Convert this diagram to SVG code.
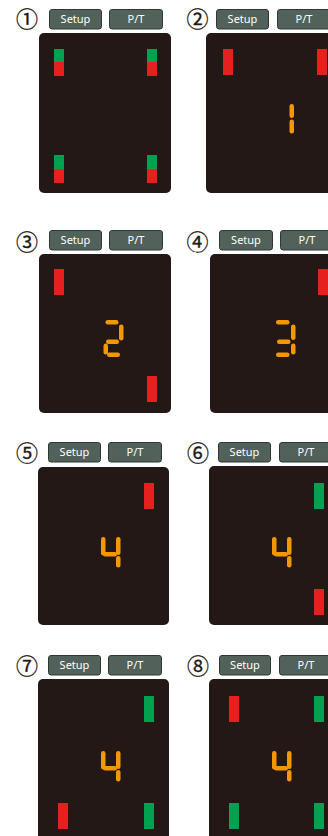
<svg xmlns="http://www.w3.org/2000/svg" width="328" height="836" viewBox="0 0 328 836">
<style>
.bg{fill:#ffffff}
.scr{fill:#231815}
.btn{fill:#52625a;stroke:#2f3934;stroke-width:1}
.bt{font-family:"Noto Sans","Liberation Sans",sans-serif;font-size:11px;fill:#ffffff;text-anchor:middle}
.num{font-family:"Noto Sans CJK JP","DejaVu Sans",sans-serif;font-size:22px;fill:#231815;stroke:#231815;stroke-width:0.3;text-anchor:middle}
.r{fill:#e61f1f}
.g{fill:#00a151}
.s{fill:#f39800}
</style>
<rect class="bg" x="0" y="0" width="328" height="836"/>

<g id="panel1">
<text class="num" x="27" y="27">①</text>
<rect class="btn" x="49.5" y="9.5" width="52" height="19.5" rx="2.5"/>
<text class="bt" x="75.5" y="23">Setup</text>
<rect class="btn" x="109.5" y="9.5" width="53" height="19.5" rx="2.5"/>
<text class="bt" x="136" y="23">P/T</text>
<rect class="scr" x="39" y="33" width="132" height="160" rx="5"/>
<rect class="g" x="54" y="49" width="10" height="13"/><rect class="r" x="54" y="62" width="10" height="14"/>
<rect class="g" x="147" y="49" width="10" height="13"/><rect class="r" x="147" y="62" width="10" height="14"/>
<rect class="g" x="54" y="155" width="10" height="14"/><rect class="r" x="54" y="169" width="10" height="14"/>
<rect class="g" x="147" y="155" width="10" height="14"/><rect class="r" x="147" y="169" width="10" height="14"/>
</g>

<g id="panel2">
<text class="num" x="197.5" y="27">②</text>
<rect class="btn" x="216.5" y="9.5" width="52" height="19.5" rx="2.5"/>
<text class="bt" x="242.5" y="23">Setup</text>
<rect class="btn" x="277.5" y="9.5" width="53" height="19.5" rx="2.5"/>
<text class="bt" x="304" y="23">P/T</text>
<rect class="scr" x="206" y="33" width="132" height="160" rx="5"/>
<rect class="r" x="223" y="49" width="10" height="26"/>
<rect class="r" x="317" y="49" width="10" height="26"/>
<rect class="s" x="289.5" y="104" width="4.5" height="14" rx="2.2"/>
<rect class="s" x="289.5" y="119.5" width="4.5" height="14" rx="2.2"/>
</g>

<g id="panel3">
<text class="num" x="27" y="250">③</text>
<rect class="btn" x="49.5" y="230.5" width="52" height="19.5" rx="2.5"/>
<text class="bt" x="75.5" y="244">Setup</text>
<rect class="btn" x="109.5" y="230.5" width="53" height="19.5" rx="2.5"/>
<text class="bt" x="136" y="244">P/T</text>
<rect class="scr" x="39" y="254" width="132" height="159" rx="5"/>
<rect class="r" x="54" y="269" width="10" height="26"/>
<rect class="r" x="147" y="376" width="10" height="26"/>
<rect class="s" x="105.5" y="320" width="13" height="4.5" rx="2.2"/>
<rect class="s" x="119" y="324.5" width="4.5" height="16" rx="2.2"/>
<rect class="s" x="106" y="339.5" width="13" height="4.5" rx="2.2"/>
<rect class="s" x="103.5" y="343.5" width="4.5" height="11" rx="2.2"/>
<rect class="s" x="107" y="352.5" width="13" height="4.5" rx="2.2"/>
</g>

<g id="panel4">
<text class="num" x="197.5" y="250">④</text>
<rect class="btn" x="219.5" y="230.5" width="53" height="19.5" rx="2.5"/>
<text class="bt" x="246" y="244">Setup</text>
<rect class="btn" x="280.5" y="230.5" width="53" height="19.5" rx="2.5"/>
<text class="bt" x="307" y="244">P/T</text>
<rect class="scr" x="210" y="254" width="132" height="159" rx="5"/>
<rect class="r" x="318" y="269" width="10" height="26"/>
<rect class="s" x="276" y="320" width="13.5" height="4.5" rx="2.2"/>
<rect class="s" x="291" y="324.5" width="4.5" height="15.5" rx="2.2"/>
<rect class="s" x="277" y="339.5" width="13.5" height="4.5" rx="2.2"/>
<rect class="s" x="291" y="343.5" width="4.5" height="11" rx="2.2"/>
<rect class="s" x="276" y="352.5" width="13.5" height="4.5" rx="2.2"/>
</g>

<g id="panel5">
<text class="num" x="27" y="461">⑤</text>
<rect class="btn" x="48.5" y="442.5" width="52" height="19.5" rx="2.5"/>
<text class="bt" x="74.5" y="456">Setup</text>
<rect class="btn" x="108.5" y="442.5" width="53" height="19.5" rx="2.5"/>
<text class="bt" x="135" y="456">P/T</text>
<rect class="scr" x="38" y="467" width="131" height="158" rx="5"/>
<rect class="r" x="144" y="483" width="10" height="26"/>
<rect class="s" x="101" y="537" width="4.5" height="18.5" rx="2.2"/>
<rect class="s" x="103" y="552" width="14" height="4.5" rx="2.2"/>
<rect class="s" x="116" y="537" width="4.5" height="18" rx="2.2"/>
<rect class="s" x="116" y="556" width="4.5" height="11.5" rx="2.2"/>
</g>

<g id="panel6">
<text class="num" x="198" y="461">⑥</text>
<rect class="btn" x="218.5" y="442.5" width="52" height="19.5" rx="2.5"/>
<text class="bt" x="244.5" y="456">Setup</text>
<rect class="btn" x="279.5" y="442.5" width="53" height="19.5" rx="2.5"/>
<text class="bt" x="306" y="456">P/T</text>
<rect class="scr" x="209" y="466" width="132" height="159" rx="5"/>
<rect class="g" x="314" y="483" width="10" height="26"/>
<rect class="r" x="314" y="589" width="10" height="26"/>
<rect class="s" x="272" y="537" width="4.5" height="18.5" rx="2.2"/>
<rect class="s" x="274" y="552" width="14" height="4.5" rx="2.2"/>
<rect class="s" x="287" y="537" width="4.5" height="18" rx="2.2"/>
<rect class="s" x="287" y="556" width="4.5" height="11.5" rx="2.2"/>
</g>

<g id="panel7">
<text class="num" x="27" y="674">⑦</text>
<rect class="btn" x="48.5" y="655.5" width="52" height="19.5" rx="2.5"/>
<text class="bt" x="74.5" y="669">Setup</text>
<rect class="btn" x="108.5" y="655.5" width="53" height="19.5" rx="2.5"/>
<text class="bt" x="135" y="669">P/T</text>
<rect class="scr" x="38" y="679" width="131" height="170" rx="5"/>
<rect class="g" x="144" y="696" width="10" height="26"/>
<rect class="r" x="58" y="803" width="10" height="26"/>
<rect class="g" x="144" y="803" width="10" height="26"/>
<rect class="s" x="101" y="751" width="4.5" height="18.5" rx="2.2"/>
<rect class="s" x="103" y="766" width="14" height="4.5" rx="2.2"/>
<rect class="s" x="116" y="751" width="4.5" height="18" rx="2.2"/>
<rect class="s" x="116" y="770" width="4.5" height="11.5" rx="2.2"/>
</g>

<g id="panel8">
<text class="num" x="198" y="674">⑧</text>
<rect class="btn" x="219.5" y="655.5" width="51" height="19.5" rx="2.5"/>
<text class="bt" x="245" y="669">Setup</text>
<rect class="btn" x="279.5" y="655.5" width="53" height="19.5" rx="2.5"/>
<text class="bt" x="306" y="669">P/T</text>
<rect class="scr" x="209" y="679" width="132" height="170" rx="5"/>
<rect class="r" x="229" y="696" width="10" height="26"/>
<rect class="g" x="314" y="696" width="10" height="26"/>
<rect class="g" x="229" y="803" width="10" height="26"/>
<rect class="g" x="314" y="803" width="10" height="26"/>
<rect class="s" x="272" y="751" width="4.5" height="18.5" rx="2.2"/>
<rect class="s" x="274" y="766" width="14" height="4.5" rx="2.2"/>
<rect class="s" x="287" y="751" width="4.5" height="18" rx="2.2"/>
<rect class="s" x="287" y="770" width="4.5" height="11.5" rx="2.2"/>
</g>
</svg>
